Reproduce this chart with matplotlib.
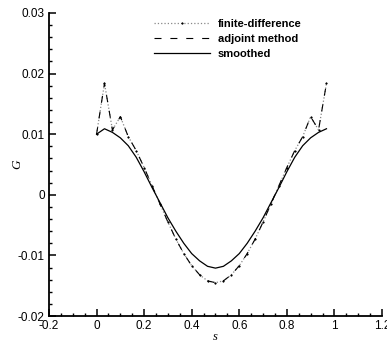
import matplotlib
matplotlib.use("Agg")
import matplotlib.pyplot as plt
from matplotlib.ticker import MultipleLocator, FuncFormatter

s = [0.0000, 0.0333, 0.0667, 0.1000, 0.1333, 0.1667, 0.2000, 0.2333, 0.2667, 0.3000,
     0.3333, 0.3667, 0.4000, 0.4333, 0.4667, 0.5000, 0.5333, 0.5667, 0.6000, 0.6333,
     0.6667, 0.7000, 0.7333, 0.7667, 0.8000, 0.8333, 0.8667, 0.9000, 0.9333, 0.9667]

finite_difference = [0.0100, 0.0184, 0.0107, 0.0129, 0.0096, 0.0073, 0.0045, 0.0015, -0.0015, -0.0045,
                     -0.0073, -0.0097, -0.0117, -0.0132, -0.0142, -0.0145, -0.0142, -0.0132, -0.0117, -0.0097,
                     -0.0073, -0.0045, -0.0015, 0.0015, 0.0045, 0.0073, 0.0096, 0.0129, 0.0107, 0.0184]

adjoint = [0.0100, 0.0184, 0.0107, 0.0129, 0.0096, 0.0073, 0.0045, 0.0015, -0.0015, -0.0045,
           -0.0073, -0.0097, -0.0117, -0.0132, -0.0142, -0.0145, -0.0142, -0.0132, -0.0117, -0.0097,
           -0.0073, -0.0045, -0.0015, 0.0015, 0.0045, 0.0073, 0.0096, 0.0129, 0.0107, 0.0184]

smoothed = [0.0100, 0.0109, 0.0103, 0.0094, 0.0081, 0.0062, 0.0038, 0.0012, -0.0013, -0.0038,
            -0.0060, -0.0080, -0.0097, -0.0109, -0.0118, -0.0121, -0.0118, -0.0109, -0.0097, -0.0080,
            -0.0060, -0.0038, -0.0013, 0.0012, 0.0038, 0.0062, 0.0081, 0.0094, 0.0103, 0.0109]

plt.rcParams['font.family'] = ['Liberation Sans', 'DejaVu Sans']

fig = plt.figure(figsize=(3.87, 3.42), dpi=100)
ax = fig.add_axes([0.1266, 0.076, 0.8604, 0.886])

ax.plot(s, finite_difference, color='#888888', linestyle=':', linewidth=0.9,
        marker='o', markersize=1.1, markerfacecolor='black', markeredgecolor='black',
        markeredgewidth=0.4, label='finite-difference')
ax.plot(s, adjoint, color='black', linestyle=(0, (6.3, 8)), linewidth=0.8, label='adjoint method')
ax.plot(s, smoothed, color='black', linestyle='-', linewidth=0.9, label='smoothed')

ax.set_xlim(-0.2, 1.2)
ax.set_ylim(-0.02, 0.03)

for sp in ['top', 'right']:
    ax.spines[sp].set_visible(False)
for sp in ['left', 'bottom']:
    ax.spines[sp].set_linewidth(1.3)

ax.xaxis.set_major_locator(MultipleLocator(0.2))
ax.xaxis.set_minor_locator(MultipleLocator(0.05))
ax.yaxis.set_major_locator(MultipleLocator(0.01))
ax.yaxis.set_minor_locator(MultipleLocator(0.002))

def fmt(v, pos):
    if abs(v) < 1e-12:
        return '0'
    return '%g' % round(v, 4)

ax.xaxis.set_major_formatter(FuncFormatter(fmt))
ax.yaxis.set_major_formatter(FuncFormatter(fmt))

ax.tick_params(which='major', direction='in', length=5, width=1.1, labelsize=8.5, pad=3)
ax.tick_params(which='minor', direction='in', length=2.5, width=1.0)

ax.set_xlabel('s', fontstyle='italic', family='Liberation Serif', fontsize=9, va='center')
ax.set_ylabel('G', fontstyle='italic', family='Liberation Serif', fontsize=9.5, va='center')
ax.xaxis.set_label_coords(0.5, -0.07)
ax.yaxis.set_label_coords(-0.096, 0.5)

leg = ax.legend(loc='upper left', bbox_to_anchor=(0.3, 1.0), frameon=False,
                handlelength=5.0, handletextpad=0.7, labelspacing=0.45, numpoints=1,
                prop={'weight': 'bold', 'size': 8}, borderaxespad=0.1)

fig.savefig('out.png', dpi=100)
